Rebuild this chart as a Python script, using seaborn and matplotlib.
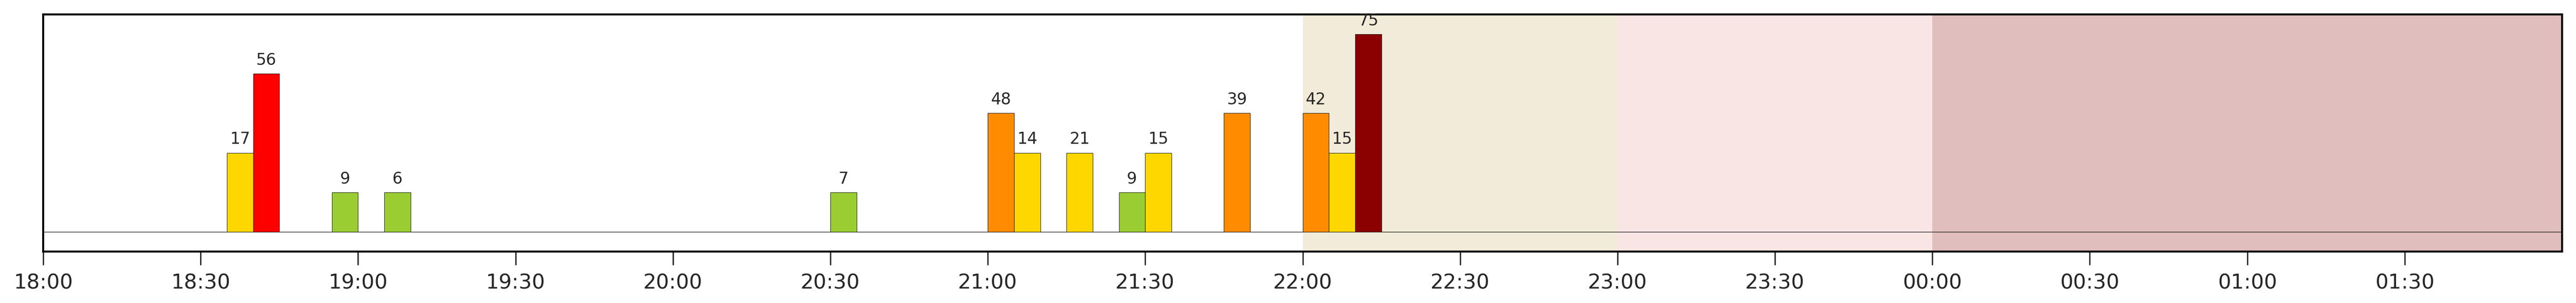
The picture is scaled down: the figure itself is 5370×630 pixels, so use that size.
import matplotlib
matplotlib.use("Agg")
import matplotlib.pyplot as plt
import seaborn as sns

# bar start times (minutes after 18:00), severity levels, labels, colours
starts = [35, 40, 55, 65, 150, 180, 185, 195, 205, 210, 225, 240, 245, 250]
levels = [2, 4, 1, 1, 1, 3, 2, 2, 1, 2, 3, 3, 2, 5]
values = [17, 56, 9, 6, 7, 48, 14, 21, 9, 15, 39, 42, 15, 75]
colors = ['gold', 'red', 'yellowgreen', 'yellowgreen', 'yellowgreen', 'darkorange',
          'gold', 'gold', 'yellowgreen', 'gold', 'darkorange', 'darkorange', 'gold', 'darkred']

tick_pos = list(range(0, 480, 30))
tick_labels = ['18:00', '18:30', '19:00', '19:30', '20:00', '20:30', '21:00', '21:30',
               '22:00', '22:30', '23:00', '23:30', '00:00', '00:30', '01:00', '01:30']

# background periods
spans = [(240, 300, '#f2ebd9'), (300, 360, '#fae5e5'), (360, 480, '#e0bebe')]


def plot():
    sns.set_style('ticks')
    fig = plt.figure(figsize=(53.7, 6.3), dpi=100)
    ax = fig.add_axes([90 / 5370, 107 / 630, (5341 - 90) / 5370, 493 / 630])
    for a, b, c in spans:
        ax.axvspan(a, b, color=c, lw=0, zorder=0)
    ax.axhline(0, color='black', lw=0.8, zorder=1)
    bars = ax.bar(starts, levels, width=5, align='edge', color=colors,
                  edgecolor='black', linewidth=0.6, zorder=2)
    for bar, v in zip(bars, values):
        ax.annotate(str(v), (bar.get_x() + bar.get_width() / 2, bar.get_height()),
                    xytext=(0, 8), textcoords='offset points', ha='center',
                    va='bottom', fontsize=24)
    ax.set_xlim(0, 480)
    ax.set_ylim(-0.5, 5.5)
    ax.set_yticks([])
    ax.set_xticks(tick_pos)
    ax.set_xticklabels(tick_labels, fontsize=31)
    ax.tick_params(axis='x', length=20, width=2, pad=12)
    for s in ax.spines.values():
        s.set_linewidth(3)
        s.set_color('black')
    fig.savefig('out.png', dpi=100)


if __name__ == '__main__':
    plot()
